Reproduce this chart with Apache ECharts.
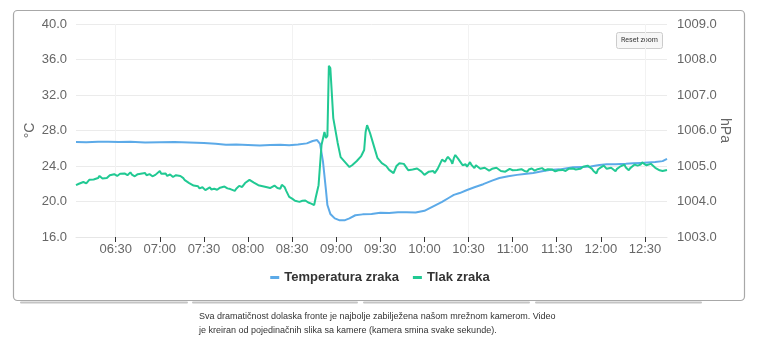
<!DOCTYPE html>
<html lang="hr">
<head>
    <meta charset="UTF-8">
    <title>Temperatura i tlak zraka</title>
    <style>
        html, body { margin: 0; padding: 0; background: #fff; }
        #main { width: 760px; height: 353px; }
    </style>
</head>
<body>
<div id="main"></div>
<script src="https://cdn.jsdelivr.net/npm/echarts@6/dist/echarts.min.js"></script>
<script>
    // vrijeme u minutama od ponoci
    var tempTimes = [363, 370, 378, 385, 392, 400, 410, 420, 430, 440, 450, 458, 465, 472, 480, 488, 495, 502, 508, 514,
        520, 524, 527, 529, 531, 533, 534, 536, 539, 542, 546, 549, 553, 558, 564, 570, 576, 582, 588, 594,
        600, 606, 612, 617, 620, 624, 629, 634, 640, 646, 651, 657, 663, 668, 674, 680, 685, 692, 701, 707,
        713, 719, 724, 730, 737, 742, 747, 752, 757, 762, 765];
    var tempValues = [26.70, 26.68, 26.72, 26.74, 26.70, 26.72, 26.66, 26.68, 26.70, 26.64, 26.58, 26.50, 26.40, 26.42, 26.36, 26.30, 26.36, 26.40, 26.33, 26.42,
        26.55, 26.82, 26.92, 26.5, 24.5, 21.3, 19.6, 18.6, 18.1, 17.9, 17.9, 18.1, 18.45, 18.55, 18.6, 18.72, 18.7, 18.8, 18.78, 18.76,
        18.95, 19.45, 19.95, 20.45, 20.75, 20.95, 21.3, 21.6, 21.95, 22.35, 22.65, 22.85, 23.0, 23.1, 23.2, 23.4, 23.55, 23.62, 23.85, 23.9,
        23.95, 24.1, 24.2, 24.2, 24.25, 24.3, 24.35, 24.4, 24.45, 24.55, 24.8];

    var presTimes = [363, 365, 366, 368, 370, 372, 373, 375, 376, 378, 379, 381, 382, 384, 386, 387, 389, 391, 393, 394,
        396, 398, 400, 401, 403, 405, 406, 408, 410, 411, 413, 415, 417, 418, 420, 421, 422, 424, 425, 427,
        429, 431, 432, 434, 436, 437, 438, 440, 441, 443, 444, 446, 447, 449, 451, 452, 454, 455, 457, 459,
        461, 462, 464, 466, 468, 469, 471, 472, 474, 476, 478, 479, 481, 482, 484, 485, 487, 488, 490, 491,
        493, 495, 496, 498, 500, 502, 503, 504, 505, 506, 508, 510, 511, 512, 513, 515, 517, 518, 519, 521,
        522, 523, 525, 526, 528, 529, 530, 532, 533, 534, 535, 536, 538, 539, 541, 543, 546, 549, 551, 554,
        557, 559, 560, 561, 563, 566, 568, 571, 574, 576, 579, 581, 583, 584, 586, 588, 589, 590, 592, 593,
        595, 596, 598, 600, 601, 603, 604, 606, 607, 609, 610, 612, 613, 614, 615, 616, 617, 618, 619, 620,
        621, 622, 623, 625, 626, 628, 629, 631, 632, 634, 635, 636, 638, 639, 641, 642, 644, 646, 647, 649,
        650, 652, 653, 655, 656, 658, 660, 661, 663, 664, 666, 668, 670, 671, 673, 675, 677, 678, 680, 682,
        684, 685, 687, 689, 691, 692, 694, 696, 698, 699, 701, 703, 704, 706, 708, 709, 711, 712, 714, 715,
        717, 718, 720, 721, 722, 724, 725, 727, 728, 730, 731, 733, 734, 736, 737, 739, 740, 741, 743, 744,
        745, 747, 748, 749, 751, 752, 754, 755, 757, 758, 760, 762, 763, 765];
    var presValues = [1004.46, 1004.50, 1004.47, 1004.55, 1004.51, 1004.61, 1004.56, 1004.62, 1004.58, 1004.66, 1004.72, 1004.65, 1004.70, 1004.66, 1004.74, 1004.70, 1004.77, 1004.72, 1004.78, 1004.73,
        1004.79, 1004.74, 1004.82, 1004.76, 1004.71, 1004.77, 1004.73, 1004.79, 1004.80, 1004.74, 1004.77, 1004.71, 1004.75, 1004.70, 1004.86, 1004.78, 1004.74, 1004.79, 1004.72, 1004.76,
        1004.69, 1004.74, 1004.69, 1004.72, 1004.66, 1004.60, 1004.55, 1004.52, 1004.48, 1004.45, 1004.41, 1004.43, 1004.37, 1004.40, 1004.32, 1004.36, 1004.40, 1004.34, 1004.36, 1004.33,
        1004.39, 1004.35, 1004.42, 1004.37, 1004.35, 1004.31, 1004.30, 1004.36, 1004.44, 1004.41, 1004.52, 1004.50, 1004.61, 1004.56, 1004.53, 1004.50, 1004.46, 1004.48, 1004.43, 1004.46,
        1004.40, 1004.38, 1004.43, 1004.45, 1004.38, 1004.36, 1004.47, 1004.50, 1004.40, 1004.30, 1004.13, 1004.08, 1004.05, 1004.02, 1004.06, 1003.99, 1004.02, 1004.06, 1004.03, 1003.97,
        1004.00, 1003.94, 1003.90, 1004.10, 1004.46, 1005.03, 1005.59, 1005.96, 1005.79, 1005.85, 1007.82, 1007.76, 1006.35, 1006.30, 1005.65, 1005.25, 1005.11, 1004.97, 1005.03, 1005.14,
        1005.28, 1005.45, 1005.96, 1006.15, 1005.93, 1005.51, 1005.23, 1005.08, 1005.00, 1004.89, 1004.80, 1005.00, 1005.08, 1005.04, 1005.06, 1004.94, 1004.88, 1004.83, 1004.90, 1004.86,
        1004.93, 1004.90, 1004.84, 1004.75, 1004.80, 1004.84, 1004.80, 1004.86, 1004.80, 1004.92, 1004.97, 1005.18, 1005.23, 1005.12, 1005.20, 1005.26, 1005.28, 1005.16, 1005.06, 1005.22,
        1005.31, 1005.27, 1005.20, 1005.08, 1005.02, 1005.05, 1004.98, 1005.11, 1005.03, 1004.94, 1005.02, 1005.00, 1004.92, 1004.89, 1004.95, 1004.91, 1004.87, 1004.92, 1004.87, 1004.95,
        1004.90, 1004.86, 1004.90, 1004.84, 1004.88, 1004.92, 1004.88, 1004.84, 1004.89, 1004.85, 1004.91, 1004.86, 1004.84, 1004.90, 1004.93, 1004.87, 1004.91, 1004.86, 1004.94, 1004.88,
        1004.91, 1004.86, 1004.90, 1004.85, 1004.88, 1004.93, 1004.89, 1004.86, 1004.92, 1004.88, 1004.93, 1004.90, 1004.95, 1004.92, 1004.98, 1004.95, 1005.01, 1004.96, 1004.92, 1004.86,
        1004.79, 1004.90, 1004.96, 1004.91, 1005.01, 1004.92, 1004.87, 1004.95, 1004.91, 1004.85, 1004.92, 1004.98, 1004.93, 1005.04, 1004.96, 1004.88, 1004.94, 1004.99, 1005.04, 1005.08,
        1005.01, 1005.04, 1005.10, 1005.12, 1005.02, 1004.99, 1005.06, 1005.03, 1004.95, 1004.92, 1004.88, 1004.86, 1004.87, 1004.89];

    var timeTicks = [390, 420, 450, 480, 510, 540, 570, 600, 630, 660, 690, 720, 750];
    var gridTicks = [390, 510, 630, 750];

    function hhmm(m) {
        var h = Math.floor(m / 60), mm = m % 60;
        return (h < 10 ? '0' : '') + h + ':' + (mm < 10 ? '0' : '') + mm;
    }
    function pairs(xs, ys) {
        return xs.map(function (x, i) { return [x, ys[i]]; });
    }

    var font = '"Liberation Sans", Arial, sans-serif';
    var myChart = echarts.init(document.getElementById('main'));

    var option = {
        backgroundColor: '#fff',
        animation: false,
        textStyle: { fontFamily: font },
        grid: { left: 76, right: 93, top: 24, bottom: 116 },
        legend: {
            top: 266,
            left: 'center',
            icon: 'rect',
            itemWidth: 9,
            itemHeight: 3,
            itemGap: 14,
            data: ['Temperatura zraka', 'Tlak zraka'],
            textStyle: { color: '#333', fontSize: 13, fontWeight: 'bold', fontFamily: font }
        },
        xAxis: [
            {
                type: 'value',
                min: 363,
                max: 765,
                axisLine: { show: true, lineStyle: { color: '#e6e6e6' } },
                axisTick: { show: true, length: 5, customValues: timeTicks, lineStyle: { color: '#333' } },
                axisLabel: {
                    customValues: timeTicks,
                    color: '#666',
                    fontSize: 13,
                    margin: 6,
                    formatter: function (v) { return hhmm(v); }
                },
                splitLine: { show: false }
            },
            {
                type: 'value',
                min: 363,
                max: 765,
                position: 'bottom',
                axisLine: { show: false },
                axisTick: { show: false, customValues: gridTicks },
                axisLabel: { show: false },
                splitLine: { show: true, lineStyle: { color: '#f2f2f2' } }
            }
        ],
        yAxis: [
            {
                type: 'value',
                min: 16,
                max: 40,
                interval: 4,
                name: '°C',
                nameLocation: 'middle',
                nameRotate: 90,
                nameGap: 39,
                nameMoveOverlap: false,
                nameTextStyle: { color: '#666', fontSize: 14 },
                axisLine: { show: false },
                axisTick: { show: false },
                axisLabel: {
                    color: '#666',
                    fontSize: 13,
                    margin: 9,
                    formatter: function (v) { return v.toFixed(1); }
                },
                splitLine: { lineStyle: { color: '#ebebeb' } }
            },
            {
                type: 'value',
                min: 1003,
                max: 1009,
                interval: 1,
                name: 'hPa',
                nameLocation: 'middle',
                nameRotate: -90,
                nameGap: 51,
                nameMoveOverlap: false,
                nameTextStyle: { color: '#666', fontSize: 14 },
                axisLine: { show: false },
                axisTick: { show: false },
                axisLabel: {
                    color: '#666',
                    fontSize: 13,
                    margin: 10,
                    formatter: function (v) { return v.toFixed(1); }
                },
                splitLine: { show: false }
            }
        ],
        series: [
            {
                name: 'Temperatura zraka',
                type: 'line',
                yAxisIndex: 0,
                symbol: 'none',
                color: '#5caae8',
                lineStyle: { width: 2 },
                data: pairs(tempTimes, tempValues)
            },
            {
                name: 'Tlak zraka',
                type: 'line',
                yAxisIndex: 1,
                symbol: 'none',
                color: '#21c993',
                lineStyle: { width: 2 },
                data: pairs(presTimes, presValues)
            }
        ],
        graphic: [
            {
                type: 'rect',
                silent: true,
                z: -1,
                shape: { x: 13.5, y: 10.5, width: 731, height: 290, r: 4 },
                style: { fill: 'none', stroke: '#a8a8a8', lineWidth: 1.2 }
            },
            {
                type: 'group',
                silent: true,
                children: [
                    { type: 'rect', shape: { x: 20, y: 301.5, width: 168, height: 2, r: 1 }, style: { fill: '#c4c4c4' } },
                    { type: 'rect', shape: { x: 192, y: 301.5, width: 166, height: 2, r: 1 }, style: { fill: '#c4c4c4' } },
                    { type: 'rect', shape: { x: 363, y: 301.5, width: 167, height: 2, r: 1 }, style: { fill: '#c4c4c4' } },
                    { type: 'rect', shape: { x: 535, y: 301.5, width: 167, height: 2, r: 1 }, style: { fill: '#c4c4c4' } }
                ]
            },
            {
                type: 'rect',
                silent: true,
                shape: { x: 616.5, y: 32.5, width: 46, height: 16, r: 2 },
                style: { fill: '#f7f7f7', stroke: '#cccccc', lineWidth: 1 }
            },
            {
                type: 'text',
                silent: true,
                x: 639.5,
                y: 40.5,
                style: {
                    text: 'Reset zoom', fill: '#333', font: '7px Roboto, sans-serif',
                    align: 'center', verticalAlign: 'middle'
                }
            },
            {
                type: 'text',
                silent: true,
                x: 199,
                y: 317,
                style: {
                    text: 'Sva dramatičnost dolaska fronte je najbolje zabilježena našom mrežnom kamerom. Video',
                    fill: '#333', font: '9px ' + font, verticalAlign: 'middle'
                }
            },
            {
                type: 'text',
                silent: true,
                x: 199,
                y: 331,
                style: {
                    text: 'je kreiran od pojedinačnih slika sa kamere (kamera smina svake sekunde).',
                    fill: '#333', font: '9px ' + font, verticalAlign: 'middle'
                }
            }
        ]
    };

    myChart.setOption(option);
</script>
</body>
</html>
